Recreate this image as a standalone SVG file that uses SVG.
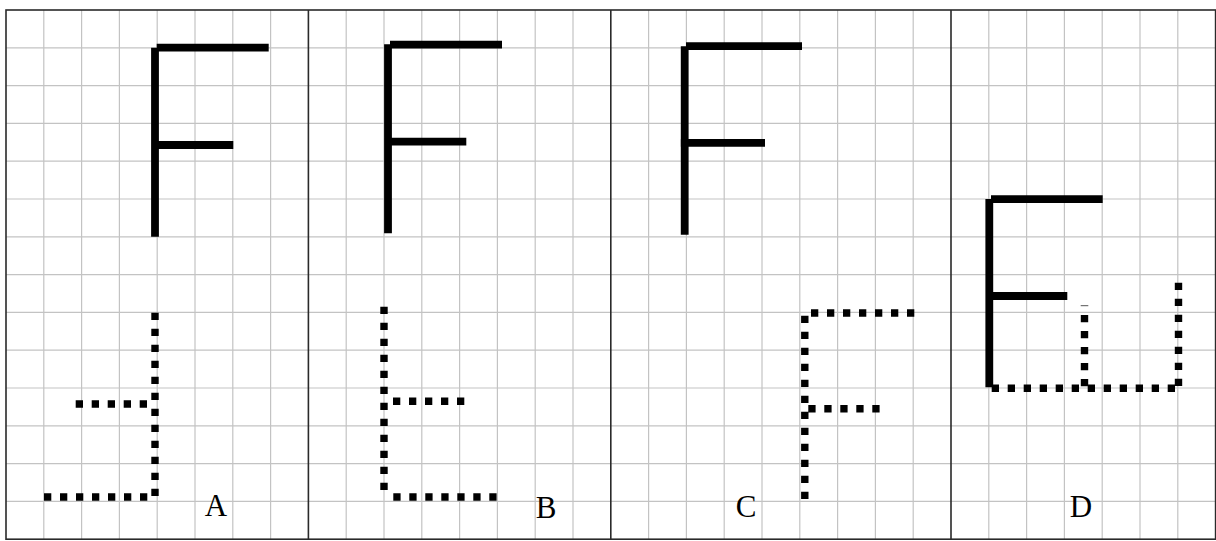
<svg xmlns="http://www.w3.org/2000/svg" width="1216" height="541" viewBox="0 0 1216 541">
<style>
.grid{stroke:#c3c3c3;stroke-width:1.2;fill:none}
.border{stroke:#2a2a2a;stroke-width:1.6;fill:none}
.solid{stroke:#000;stroke-width:7.8;stroke-linecap:butt;fill:none}
.dot{stroke:#000;stroke-width:7.4;stroke-dasharray:7.3 8.7;stroke-linecap:butt;fill:none}
.lbl{font-family:"Liberation Serif","Times New Roman",serif;font-size:31px;fill:#000;text-anchor:middle}
</style>
<rect width="1216" height="541" fill="#fff"/>
<g id="grid">
<path class="grid" d="M43.8,10V539.2M81.6,10V539.2M119.4,10V539.2M157.2,10V539.2M195,10V539.2M232.8,10V539.2M270.6,10V539.2M346.2,10V539.2M384,10V539.2M421.8,10V539.2M459.6,10V539.2M497.4,10V539.2M535.2,10V539.2M573,10V539.2M648.6,10V539.2M686.4,10V539.2M724.2,10V539.2M762,10V539.2M799.8,10V539.2M837.6,10V539.2M875.4,10V539.2M913.2,10V539.2M988.8,10V539.2M1026.6,10V539.2M1064.4,10V539.2M1102.2,10V539.2M1140,10V539.2M1177.8,10V539.2"/>
<path class="grid" d="M6,47.8H1215.6M6,85.6H1215.6M6,123.4H1215.6M6,161.2H1215.6M6,199H1215.6M6,236.8H1215.6M6,274.6H1215.6M6,312.4H1215.6M6,350.2H1215.6M6,388H1215.6M6,425.8H1215.6M6,463.6H1215.6M6,501.4H1215.6"/>
</g>
<g id="borders">
<rect class="border" x="6" y="10" width="1209.6" height="529.2"/>
<path class="border" d="M308.4,10V539.2M610.8,10V539.2M951,10V539.2"/>
</g>
<g id="panel-A">
<path class="solid" d="M155,47.7V236.7M156.7,47.7H268.7M156.7,145H233.3"/>
<path class="dot" d="M155,312.7V496.5M44,497H148M75.7,404H147.5"/>
<text class="lbl" x="216" y="516">A</text>
</g>
<g id="panel-B">
<path class="solid" d="M388,44.3V233.3M390,44.7H502M390.7,141.7H466.3"/>
<path class="dot" d="M384,306.7V490.5M393,401.3H465M393.3,497H497.7"/>
<text class="lbl" x="546" y="518">B</text>
</g>
<g id="panel-C">
<path class="solid" d="M684.7,46.3V234.7M686,46.2H802M680.7,142.8H765"/>
<path class="dot" d="M804.8,315.7V499.7M811,313H915M808.3,408.8H880.3"/>
<text class="lbl" x="746" y="517">C</text>
</g>
<g id="panel-D">
<path class="solid" d="M989.3,199V387.3M991,199.2H1102.7M989,296H1067.3"/>
<path class="dot" d="M991.7,388.2H1175.5M1084.5,315V386.5M1178.5,282.7V386.5"/>
<path d="M1080.7,305.7H1088.3" stroke="#555" stroke-width="1"/>
<text class="lbl" x="1081" y="517">D</text>
</g>
</svg>
